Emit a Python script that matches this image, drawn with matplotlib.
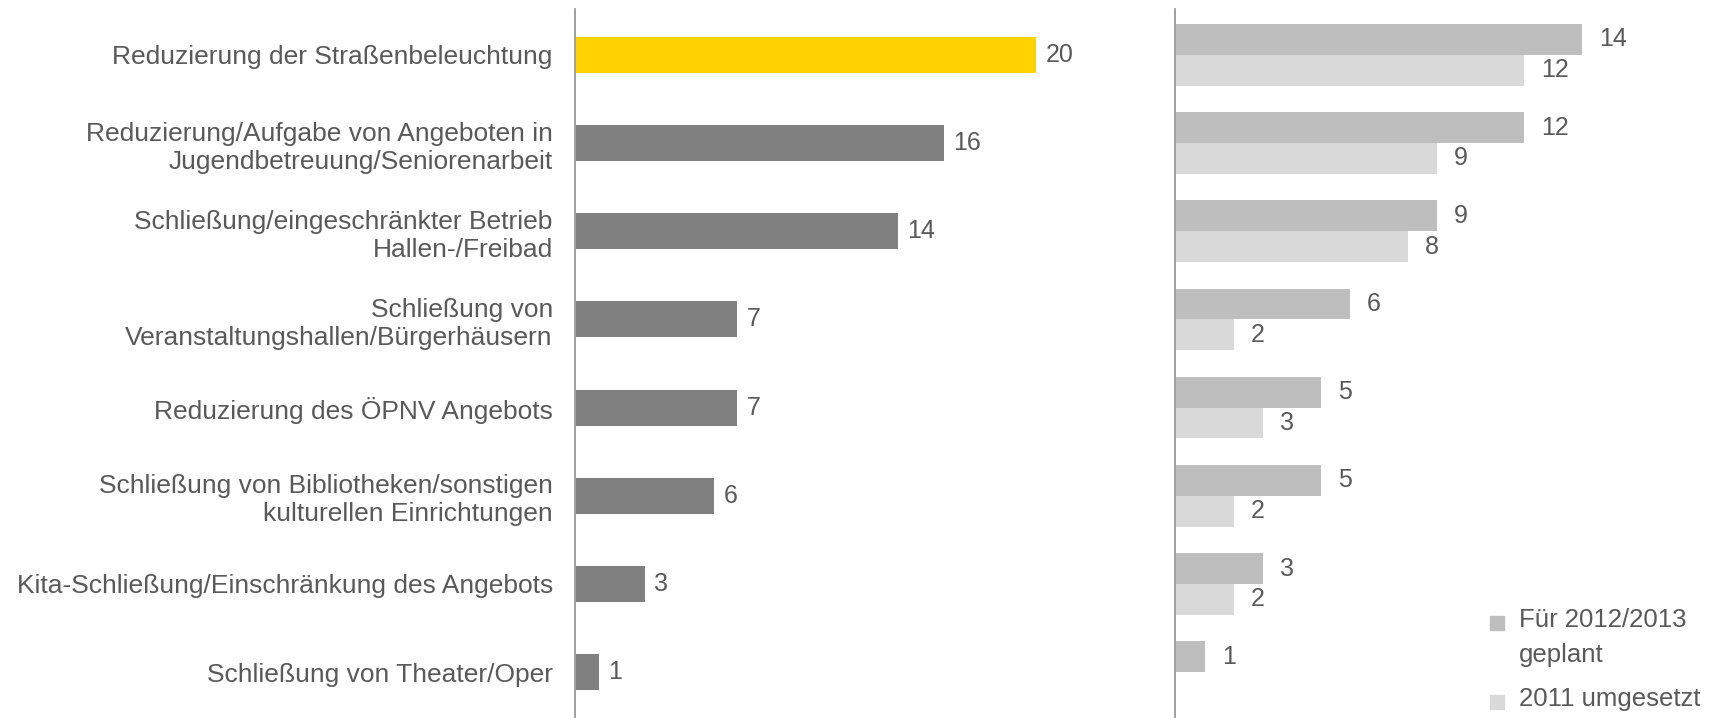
import matplotlib
matplotlib.use("Agg")
import matplotlib.pyplot as plt
from matplotlib.patches import Rectangle

plt.rcParams["font.family"] = ["Liberation Sans", "DejaVu Sans"]

# data
categories = [
    "Reduzierung der Straßenbeleuchtung",
    "Reduzierung/Aufgabe von Angeboten in\nJugendbetreuung/Seniorenarbeit",
    "Schließung/eingeschränkter Betrieb\nHallen-/Freibad",
    "Schließung von\nVeranstaltungshallen/Bürgerhäusern",
    "Reduzierung des ÖPNV Angebots",
    "Schließung von Bibliotheken/sonstigen\nkulturellen Einrichtungen",
    "Kita-Schließung/Einschränkung des Angebots",
    "Schließung von Theater/Oper",
]
total = [20, 16, 14, 7, 7, 6, 3, 1]
geplant = [14, 12, 9, 6, 5, 5, 3, 1]
umgesetzt = [12, 9, 8, 2, 3, 2, 2, None]
legend_labels = ["Für 2012/2013\ngeplant", "2011 umgesetzt"]
legend_colors = ["#BEBEBE", "#D9D9D9"]

TXT = "#595959"
FS = 18
W, H = 1720, 718

fig = plt.figure(figsize=(W / 100, H / 100), dpi=100)

# left panel
ax1 = fig.add_axes([575 / W, 0, 520 / W, 1 - 9 / H])
y = list(range(len(categories)))
colors = ["#FFD200"] + ["#808080"] * (len(categories) - 1)
ax1.barh(y, total, height=0.41, color=colors, left=0.05)
for yi, v in zip(y, total):
    ax1.text(v + 0.45, yi, str(v), va="center", ha="left", fontsize=FS, color=TXT)
ax1.set_xlim(0, 520 / 23.0)
ax1.set_ylim(7.52, -0.52)
ax1.set_yticks(y)
ax1.set_yticklabels(categories, fontsize=19, color=TXT, linespacing=1.22)
ax1.tick_params(axis="y", length=0, pad=16)
ax1.set_xticks([])
for s in ["top", "right", "bottom"]:
    ax1.spines[s].set_visible(False)
ax1.spines["left"].set_color("#9A9A9A")
ax1.spines["left"].set_linewidth(1.3)

# right panel
ax2 = fig.add_axes([1175 / W, 0, 545 / W, 1 - 9 / H])
bh = 0.35
u_y = [yi + bh / 2 for yi, v in zip(y, umgesetzt) if v is not None]
u_vals = [v for v in umgesetzt if v is not None]
ax2.barh([yi - bh / 2 for yi in y], geplant, height=bh, color=legend_colors[0], left=0.05)
ax2.barh(u_y, u_vals, height=bh, color=legend_colors[1], left=0.05)
for yi, v in zip(y, geplant):
    ax2.text(v + 0.62, yi - bh / 2, str(v), va="center", ha="left", fontsize=FS, color=TXT)
for yi, v in zip(u_y, u_vals):
    ax2.text(v + 0.62, yi, str(v), va="center", ha="left", fontsize=FS, color=TXT)
ax2.set_xlim(0, 545 / 29.0)
ax2.set_ylim(7.52, -0.52)
ax2.set_xticks([])
ax2.set_yticks([])
for s in ["top", "right", "bottom"]:
    ax2.spines[s].set_visible(False)
ax2.spines["left"].set_color("#9A9A9A")
ax2.spines["left"].set_linewidth(1.3)

# legend, handle aligned with first text line
leg_y = [623, 702]
for lab, col, ly in zip(legend_labels, legend_colors, leg_y):
    fig.patches.append(Rectangle((1490 / W, 1 - (ly + 7) / H), 14 / W, 14 / H,
                                 transform=fig.transFigure, color=col))
    fig.text(1519 / W, 1 - (ly - 15) / H, lab, ha="left", va="top",
             fontsize=18.5, color=TXT, linespacing=1.6)

fig.savefig("out.png", dpi=100)
